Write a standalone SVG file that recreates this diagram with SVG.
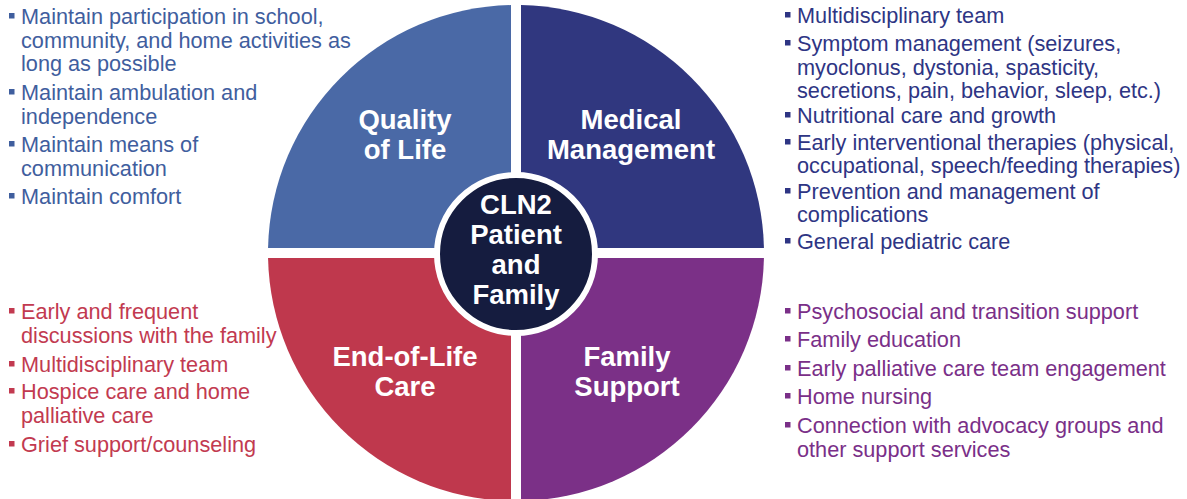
<svg xmlns="http://www.w3.org/2000/svg" width="1187" height="499" viewBox="0 0 1187 499">
<style>
.lbl{font-family:"Liberation Sans",Arial,sans-serif;font-weight:bold;font-size:27.5px;fill:#ffffff;text-anchor:middle}
.lst{font-family:"Liberation Sans",Arial,sans-serif;font-size:21.7px}
.blue{fill:#3f5e9e}
.navy{fill:#2e3584}
.red{fill:#c23a50}
.purple{fill:#7a2f88}
</style>
<rect width="1187" height="499" fill="#ffffff"/>
<g id="quality-of-life">
<path d="M511,248 L511,5.05 A248,248 0 0 0 268.05,248 Z" fill="#4a69a6"/>
<text class="lbl" x="405" y="129">Quality</text>
<text class="lbl" x="405" y="159">of Life</text>
<g class="lst blue">
<rect x="9" y="13" width="5.5" height="5.5"/>
<text x="21" y="24">Maintain participation in school,</text>
<text x="21" y="47.5">community, and home activities as</text>
<text x="21" y="71">long as possible</text>
<rect x="9" y="89" width="5.5" height="5.5"/>
<text x="21" y="100">Maintain ambulation and</text>
<text x="21" y="124">independence</text>
<rect x="9" y="141" width="5.5" height="5.5"/>
<text x="21" y="152">Maintain means of</text>
<text x="21" y="175.5">communication</text>
<rect x="9" y="193" width="5.5" height="5.5"/>
<text x="21" y="204">Maintain comfort</text>
</g>
</g>
<g id="medical-management">
<path d="M521,248 L521,5.05 A248,248 0 0 1 763.95,248 Z" fill="#30377f"/>
<text class="lbl" x="631" y="129">Medical</text>
<text class="lbl" x="631" y="159">Management</text>
<g class="lst navy">
<rect x="785" y="12" width="5.5" height="5.5"/>
<text x="797" y="23">Multidisciplinary team</text>
<rect x="785" y="40" width="5.5" height="5.5"/>
<text x="797" y="51">Symptom management (seizures,</text>
<text x="797" y="74.5">myoclonus, dystonia, spasticity,</text>
<text x="797" y="98">secretions, pain, behavior, sleep, etc.)</text>
<rect x="785" y="112" width="5.5" height="5.5"/>
<text x="797" y="123">Nutritional care and growth</text>
<rect x="785" y="139" width="5.5" height="5.5"/>
<text x="797" y="150">Early interventional therapies (physical,</text>
<text x="797" y="173">occupational, speech/feeding therapies)</text>
<rect x="785" y="188" width="5.5" height="5.5"/>
<text x="797" y="199">Prevention and management of</text>
<text x="797" y="222">complications</text>
<rect x="785" y="238" width="5.5" height="5.5"/>
<text x="797" y="249">General pediatric care</text>
</g>
</g>
<g id="end-of-life-care">
<path d="M511,258 L268.05,258 A248,248 0 0 0 511,500.95 Z" fill="#bf384d"/>
<text class="lbl" x="405" y="366">End-of-Life</text>
<text class="lbl" x="405" y="396">Care</text>
<g class="lst red">
<rect x="9" y="308" width="5.5" height="5.5"/>
<text x="21" y="319">Early and frequent</text>
<text x="21" y="343">discussions with the family</text>
<rect x="9" y="361" width="5.5" height="5.5"/>
<text x="21" y="372">Multidisciplinary team</text>
<rect x="9" y="388" width="5.5" height="5.5"/>
<text x="21" y="399">Hospice care and home</text>
<text x="21" y="422.5">palliative care</text>
<rect x="9" y="441" width="5.5" height="5.5"/>
<text x="21" y="452">Grief support/counseling</text>
</g>
</g>
<g id="family-support">
<path d="M521,258 L763.95,258 A248,248 0 0 1 521,500.95 Z" fill="#7b3087"/>
<text class="lbl" x="627" y="366">Family</text>
<text class="lbl" x="627" y="396">Support</text>
<g class="lst purple">
<rect x="785" y="308" width="5.5" height="5.5"/>
<text x="797" y="319">Psychosocial and transition support</text>
<rect x="785" y="336" width="5.5" height="5.5"/>
<text x="797" y="347">Family education</text>
<rect x="785" y="365" width="5.5" height="5.5"/>
<text x="797" y="376">Early palliative care team engagement</text>
<rect x="785" y="393" width="5.5" height="5.5"/>
<text x="797" y="404">Home nursing</text>
<rect x="785" y="422" width="5.5" height="5.5"/>
<text x="797" y="433">Connection with advocacy groups and</text>
<text x="797" y="457">other support services</text>
</g>
</g>
<g id="cln2-patient-and-family">
<circle cx="516" cy="254" r="79" fill="#151c3f" stroke="#ffffff" stroke-width="6"/>
<text class="lbl" x="516" y="214">CLN2</text>
<text class="lbl" x="516" y="244">Patient</text>
<text class="lbl" x="516" y="274">and</text>
<text class="lbl" x="516" y="304">Family</text>
</g>
<g id="connectors"/>
</svg>
